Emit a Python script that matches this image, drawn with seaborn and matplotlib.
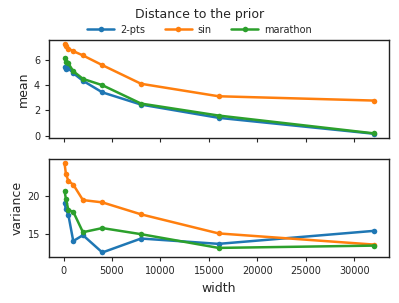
import matplotlib
matplotlib.use("Agg")
import matplotlib.pyplot as plt
import seaborn as sns
import pandas as pd

widths = [100, 250, 500, 1000, 2000, 4000, 8000, 16000, 32000]
methods = ["2-pts", "sin", "marathon"]
mean_2pts = [5.45, 5.3, 5.35, 4.95, 4.35, 3.43, 2.46, 1.41, 0.15]
mean_sin = [7.23, 7.1, 6.9, 6.7, 6.36, 5.59, 4.11, 3.12, 2.78]
mean_marathon = [6.18, 5.83, 5.72, 5.11, 4.5, 4.0, 2.54, 1.59, 0.18]
var_2pts = [19.1, 18.25, 17.5, 14.1, 14.87, 12.6, 14.43, 13.73, 15.43]
var_sin = [24.3, 22.85, 21.97, 21.5, 19.47, 19.17, 17.6, 15.1, 13.64]
var_marathon = [20.7, 19.56, 18.16, 17.94, 15.26, 15.8, 15.0, 13.2, 13.5]

rows = []
for m, mv, vv in zip(methods, [mean_2pts, mean_sin, mean_marathon],
                     [var_2pts, var_sin, var_marathon]):
    for w, a, b in zip(widths, mv, vv):
        rows.append({"width": w, "method": m, "mean": a, "variance": b})
df = pd.DataFrame(rows)

sns.set_style("ticks")
plt.rcParams["font.family"] = ["DejaVu Sans"]
palette = ["#1f77b4", "#ff7f0e", "#2ca02c"]

fig, (ax1, ax2) = plt.subplots(2, 1, figsize=(3.99, 3.03), dpi=100, sharex=True)
fig.subplots_adjust(left=0.123, right=0.975, top=0.868, bottom=0.152, hspace=0.21)

for ax, col in [(ax1, "mean"), (ax2, "variance")]:
    sns.lineplot(data=df, x="width", y=col, hue="method", hue_order=methods,
                 palette=palette, marker="o", markersize=4, markeredgewidth=0,
                 linewidth=1.8, ax=ax, legend=(ax is ax1))
    ax.tick_params(labelsize=7, length=3)
    ax.set_ylabel(col, fontsize=9, labelpad=3)
    for s in ax.spines.values():
        s.set_linewidth(1)
        s.set_color("#222222")

ax1.set_yticks([0, 2, 4, 6])
ax2.set_yticks([15, 20])
ax2.set_xticks([0, 5000, 10000, 15000, 20000, 25000, 30000])
ax2.set_xlabel("width", fontsize=9)
ax1.set_xlabel("")

handles, labels = ax1.get_legend_handles_labels()
ax1.get_legend().remove()
fig.legend(handles, labels, loc="center", bbox_to_anchor=(0.5, 0.902),
           ncol=3, frameon=False, fontsize=7, handlelength=2.8,
           columnspacing=2.0, handletextpad=0.6, borderaxespad=0)
fig.suptitle("Distance to the prior", fontsize=9, y=0.952, va="center")

fig.savefig("out.png", dpi=100)
